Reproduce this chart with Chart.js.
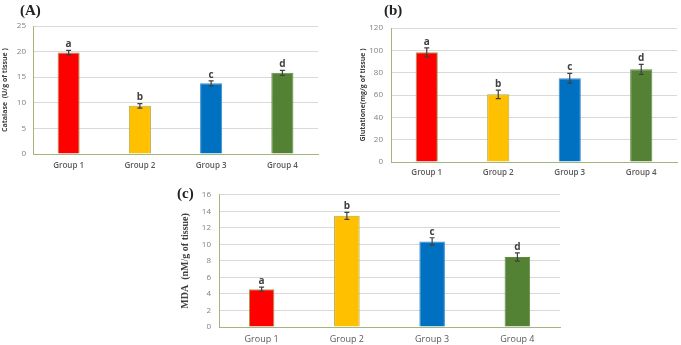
<!DOCTYPE html>
<html>
<head>
<meta charset="utf-8">
<script src="https://cdn.jsdelivr.net/npm/chart.js@4.4.0/dist/chart.umd.min.js"></script>
<style>
  body { margin: 0; background: #fff; }
  #wrap { position: relative; width: 681px; height: 345px; overflow: hidden; }
  canvas { position: absolute; }
  .tag { position: absolute; font-family: "Liberation Serif", serif; font-weight: bold; font-size: 15px; color: #222; line-height: 1; }
</style>
</head>
<body>
<div id="wrap">
  <canvas id="chartA" width="340" height="180" style="left:0;top:0;width:340px;height:180px"></canvas>
  <canvas id="chartB" width="329" height="180" style="left:352px;top:0;width:329px;height:180px"></canvas>
  <canvas id="chartC" width="400" height="163" style="left:170px;top:182px;width:400px;height:163px"></canvas>
  <div class="tag" style="left:20px;top:3px">(A)</div>
  <div class="tag" style="left:384px;top:3px">(b)</div>
  <div class="tag" style="left:177px;top:186px">(c)</div>
</div>
<script>
// data
const groups = ['Group 1', 'Group 2', 'Group 3', 'Group 4'];
const letters = ['a', 'b', 'c', 'd'];
const barColors = ['#ff0000', '#ffc000', '#0070c0', '#548235'];
const edgeColors = ['#8fa85a', '#b3a845', '#3d8ccf', '#5f8a45'];

const catalase = [19.8, 9.4, 13.8, 15.85];
const catalaseErr = [0.45, 0.45, 0.5, 0.5];

const glutathione = [98.2, 60.6, 75, 83];
const glutathioneErr = [4, 3.8, 4.4, 4.5];

const mda = [4.57, 13.45, 10.35, 8.48];
const mdaErr = [0.25, 0.42, 0.45, 0.5];

const axisColor = '#a4b67e';
const gridColor = '#d9d9d9';

// error bars + significance letters
const errorBars = {
    id: 'errorBars',
    afterDatasetsDraw(chart, args, opts) {
        const ctx = chart.ctx;
        const meta = chart.getDatasetMeta(0);
        const y = chart.scales.y;
        const vals = chart.data.datasets[0].data;
        ctx.save();
        meta.data.forEach((bar, i) => {
            const top = y.getPixelForValue(vals[i] + opts.errors[i]);
            const bot = y.getPixelForValue(vals[i] - opts.errors[i]);
            ctx.strokeStyle = '#404040';
            ctx.lineWidth = 1.2;
            ctx.beginPath();
            ctx.moveTo(bar.x, top); ctx.lineTo(bar.x, bot);
            ctx.moveTo(bar.x - 2.5, top); ctx.lineTo(bar.x + 2.5, top);
            ctx.moveTo(bar.x - 2.5, bot); ctx.lineTo(bar.x + 2.5, bot);
            ctx.stroke();
            ctx.fillStyle = '#404040';
            ctx.font = 'bold 10px "Open Sans"';
            ctx.textAlign = 'center';
            ctx.textBaseline = 'bottom';
            ctx.fillText(letters[i], bar.x, top - 1);
        });
        ctx.restore();
    }
};

function makeChart(id, values, errors, cfg) {
    return new Chart(document.getElementById(id), {
        type: 'bar',
        data: {
            labels: groups,
            datasets: [{
                data: values,
                backgroundColor: barColors,
                borderColor: edgeColors,
                borderWidth: 1,
                barPercentage: cfg.barPct,
                categoryPercentage: 1
            }]
        },
        options: {
            responsive: false,
            animation: false,
            devicePixelRatio: 1,
            layout: { padding: { top: cfg.padTop, right: cfg.padRight, left: 0, bottom: 0 } },
            plugins: {
                legend: { display: false },
                tooltip: { enabled: false },
                errorBars: { errors: errors }
            },
            scales: {
                x: {
                    grid: { display: false, drawTicks: false },
                    border: { color: axisColor, width: 1 },
                    ticks: { color: '#595959', padding: cfg.xPad, font: cfg.xFont },
                    afterFit: (s) => { s.height = cfg.xHeight; }
                },
                y: {
                    min: 0, max: cfg.max,
                    grid: {
                        drawTicks: false,
                        color: (c) => c.tick && c.tick.value === 0 ? 'rgba(0,0,0,0)' : gridColor
                    },
                    border: { color: axisColor, width: 1 },
                    ticks: { stepSize: cfg.step, color: '#808080', padding: cfg.yPad, font: { family: 'Open Sans', size: 8 } },
                    title: {
                        display: true,
                        text: cfg.title,
                        color: '#404040',
                        font: cfg.titleFont,
                        padding: { top: cfg.titlePad, bottom: 0 }
                    },
                    afterFit: (s) => { s.width = cfg.yWidth; }
                }
            }
        },
        plugins: [errorBars]
    });
}

makeChart('chartA', catalase, catalaseErr, {
    max: 25, step: 5, barPct: 0.31,
    padTop: 26, padRight: 22, xHeight: 26, yWidth: 33,
    xPad: 7, yPad: 7, titlePad: 1,
    xFont: { family: 'Open Sans', size: 8, weight: '600' },
    title: 'Catalase  (U/g of tissue )',
    titleFont: { family: 'Open Sans', size: 7, weight: 'bold' }
});

makeChart('chartB', glutathione, glutathioneErr, {
    max: 120, step: 20, barPct: 0.31,
    padTop: 28, padRight: 4, xHeight: 18, yWidth: 39,
    xPad: 6, yPad: 8, titlePad: 7,
    xFont: { family: 'Open Sans', size: 8, weight: '600' },
    title: 'Glutatione(mg/g of tissue )',
    titleFont: { family: 'Open Sans', size: 7, weight: 'bold' }
});

makeChart('chartC', mda, mdaErr, {
    max: 16, step: 2, barPct: 0.3,
    padTop: 11, padRight: 10, xHeight: 18, yWidth: 49,
    xPad: 7, yPad: 8, titlePad: 9,
    xFont: { family: 'Open Sans', size: 9 },
    title: 'MDA  (nM/g of tissue)',
    titleFont: { family: 'Liberation Serif', size: 10, weight: 'bold' }
});
</script>
</body>
</html>
